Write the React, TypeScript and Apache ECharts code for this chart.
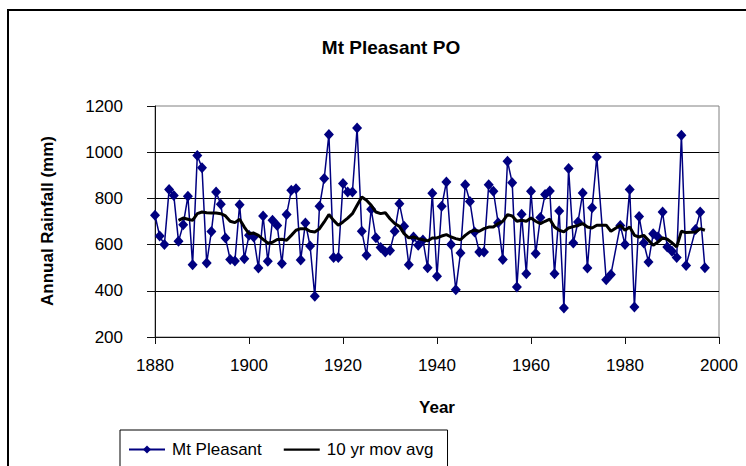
import React, { useEffect, useRef } from "react";
import * as echarts from "echarts";

const years: number[] = [
  1880, 1881, 1882, 1883, 1884, 1885, 1886, 1887, 1888, 1889,
  1890, 1891, 1892, 1893, 1894, 1895, 1896, 1897, 1898, 1899,
  1900, 1901, 1902, 1903, 1904, 1905, 1906, 1907, 1908, 1909,
  1910, 1911, 1912, 1913, 1914, 1915, 1916, 1917, 1918, 1919,
  1920, 1921, 1922, 1923, 1924, 1925, 1926, 1927, 1928, 1929,
  1930, 1931, 1932, 1933, 1934, 1935, 1936, 1937, 1938, 1939,
  1940, 1941, 1942, 1943, 1944, 1945, 1946, 1947, 1948, 1949,
  1950, 1951, 1952, 1953, 1954, 1955, 1956, 1957, 1958, 1959,
  1960, 1961, 1962, 1963, 1964, 1965, 1966, 1967, 1968, 1969,
  1970, 1971, 1972, 1973, 1974, 1976, 1977, 1979,
  1980, 1981, 1982, 1983, 1984, 1985, 1986, 1987, 1988, 1989,
  1990, 1991, 1992, 1993, 1995, 1996, 1997,
];

const rainfall: number[] = [
  727, 637, 600, 838, 813, 614, 686, 809, 513, 986,
  933, 520, 657, 828, 775, 629, 535, 529, 773, 539,
  640, 633, 499, 724, 528, 705, 683, 518, 730, 835,
  842, 533, 694, 594, 376, 766, 886, 1077, 544, 544,
  864, 828, 828, 1105, 658, 554, 753, 630, 587, 568,
  575, 658, 777, 679, 513, 633, 597, 620, 500, 822,
  463, 766, 871, 600, 405, 564, 859, 787, 655, 568,
  568, 859, 831, 695, 536, 961, 868, 416, 731, 474,
  831, 561, 717, 817, 832, 474, 745, 326, 929, 607,
  698, 823, 499, 759, 979, 448, 471, 683,
  600, 839, 330, 722, 607, 525, 647, 633, 741, 590,
  571, 544, 1073, 510, 665, 741, 500,
];

const maYears: number[] = [
  1885, 1886, 1887, 1888, 1889,
  1890, 1891, 1892, 1893, 1894, 1895, 1896, 1897, 1898, 1899,
  1900, 1901, 1902, 1903, 1904, 1905, 1906, 1907, 1908, 1909,
  1910, 1911, 1912, 1913, 1914, 1915, 1916, 1917, 1918, 1919,
  1920, 1921, 1922, 1923, 1924, 1925, 1926, 1927, 1928, 1929,
  1930, 1931, 1932, 1933, 1934, 1935, 1936, 1937, 1938, 1939,
  1940, 1941, 1942, 1943, 1944, 1945, 1946, 1947, 1948, 1949,
  1950, 1951, 1952, 1953, 1954, 1955, 1956, 1957, 1958, 1959,
  1960, 1961, 1962, 1963, 1964, 1965, 1966, 1967, 1968, 1969,
  1970, 1971, 1972, 1973, 1974, 1976, 1977, 1979,
  1980, 1981, 1982, 1983, 1984, 1985, 1986, 1987, 1988, 1989,
  1990, 1991, 1992, 1993, 1995, 1996, 1997,
];

const movingAvg: number[] = [
  705, 715, 710, 705, 734,
  741, 738, 737, 737, 734, 724, 701, 695, 710, 676,
  647, 650, 640, 623, 606, 610, 622, 623, 619, 640,
  662, 669, 669, 658, 655, 669, 698, 730, 705, 684,
  698, 715, 734, 770, 806, 792, 770, 741, 734, 738,
  712, 691, 679, 647, 629, 633, 626, 621, 616, 629,
  629, 637, 643, 633, 626, 621, 640, 655, 662, 658,
  669, 676, 676, 691, 701, 730, 724, 701, 705, 701,
  715, 701, 691, 701, 710, 676, 662, 655, 672, 678,
  683, 691, 676, 672, 684, 684, 658, 684,
  662, 676, 640, 633, 640, 619, 597, 611, 629, 623,
  608, 590, 658, 652, 655, 669, 662,
];

const seriesNames: string[] = ["Mt Pleasant", "10 yr mov avg"];
const chartTitle = "Mt Pleasant PO";
const xTitle = "Year";
const yTitle = "Annual Rainfall (mm)";

const FONT = "'Liberation Sans', Arial, Helvetica, sans-serif";

export default function App() {
  const ref = useRef<HTMLDivElement>(null);

  useEffect(() => {
    if (!ref.current) return;
    const chart = echarts.init(ref.current, undefined, { renderer: "svg" });

    const rainData = years.map((y, i) => [y, rainfall[i]]);
    const maData = maYears.map((y, i) => [y, movingAvg[i]]);

    chart.setOption({
      animation: false,
      backgroundColor: "#ffffff",
      textStyle: { fontFamily: FONT },
      grid: {
        left: 155,
        top: 106,
        width: 564,
        height: 231,
        show: true,
        borderColor: "#808080",
        borderWidth: 1,
        backgroundColor: "#ffffff",
      },
      xAxis: {
        type: "value",
        min: 1880,
        max: 2000,
        interval: 20,
        axisLine: { show: true, onZero: false, lineStyle: { color: "#111", width: 1 } },
        axisTick: { show: true, inside: false, length: 7, lineStyle: { color: "#111" } },
        axisLabel: {
          color: "#000",
          fontSize: 17,
          fontFamily: FONT,
          margin: 20,
          formatter: (v: number) => String(v),
        },
        splitLine: { show: false },
      },
      yAxis: {
        type: "value",
        min: 200,
        max: 1200,
        interval: 200,
        axisLine: { show: true, lineStyle: { color: "#111", width: 1 } },
        axisTick: { show: true, inside: false, length: 8, lineStyle: { color: "#111" } },
        axisLabel: {
          color: "#000",
          fontSize: 17,
          fontFamily: FONT,
          margin: 32,
          formatter: (v: number) => String(v),
        },
        splitLine: {
          show: true,
          showMinLine: false,
          showMaxLine: false,
          lineStyle: { color: "#000", width: 1 },
        },
      },
      legend: {
        left: 120,
        top: 430,
        orient: "horizontal",
        borderColor: "#000",
        borderWidth: 1,
        padding: [11, 14, 12, 8],
        itemGap: 22,
        itemWidth: 36,
        itemHeight: 10,
        textStyle: { color: "#000", fontSize: 17, fontFamily: FONT, padding: [0, 0, 0, 2] },
        data: [
          { name: seriesNames[0] },
          { name: seriesNames[1], icon: "path://M0,0 L48,0 L48,3 L0,3 Z" },
        ],
      },
      graphic: [
        {
          type: "rect",
          shape: { x: 8, y: 10, width: 800, height: 520 },
          style: { fill: "none", stroke: "#000", lineWidth: 2 },
          silent: true,
          z: -10,
        },
        {
          type: "text",
          x: 391,
          y: 47,
          style: {
            text: chartTitle,
            font: `bold 19px ${FONT}`,
            fill: "#000",
            textAlign: "center",
            textVerticalAlign: "middle",
          },
        },
        {
          type: "text",
          x: 437,
          y: 407,
          style: {
            text: xTitle,
            font: `bold 17px ${FONT}`,
            fill: "#000",
            textAlign: "center",
            textVerticalAlign: "middle",
          },
        },
        {
          type: "text",
          x: 47,
          y: 221,
          rotation: Math.PI / 2,
          style: {
            text: yTitle,
            font: `bold 17px ${FONT}`,
            fill: "#000",
            textAlign: "center",
            textVerticalAlign: "middle",
          },
        },
      ],
      series: [
        {
          name: seriesNames[0],
          type: "line",
          data: rainData,
          symbol: "diamond",
          symbolSize: [10, 11],
          showSymbol: true,
          clip: false,
          itemStyle: { color: "#000080" },
          lineStyle: { color: "#000080", width: 1.5 },
          z: 2,
        },
        {
          name: seriesNames[1],
          type: "line",
          data: maData,
          symbol: "none",
          clip: false,
          itemStyle: { color: "#000" },
          lineStyle: { color: "#000", width: 3 },
          z: 3,
        },
      ],
    });

    return () => {
      chart.dispose();
    };
  }, []);

  return (
    <div
      ref={ref}
      style={{ position: "fixed", left: 0, top: 0, width: 746, height: 466 }}
    />
  );
}
